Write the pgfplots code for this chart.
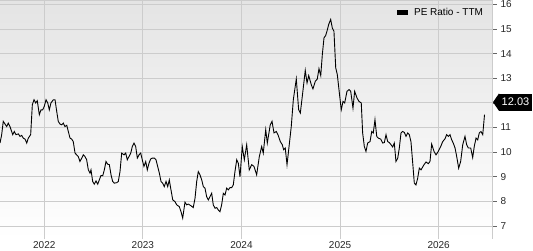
\documentclass[border=0pt]{standalone}
\usepackage{pgfplots}
\pgfplotsset{compat=1.18}
\usepackage{fontspec}
\setmainfont{Liberation Sans}
\definecolor{gridc}{HTML}{CCCCCC}
\definecolor{bgtop}{HTML}{E4E4E4}
\begin{document}
\begin{tikzpicture}[x=1pt,y=1pt]
\useasboundingbox (0,-11) rectangle (533,239);
\begin{axis}[
  at={(0,0)}, anchor=south west,
  scale only axis, width=492pt, height=239pt,
  xmin=2021.551, xmax=2026.541, ymin=6.472, ymax=16.18,
  axis line style={draw=none},
  axis background/.style={shade, top color=bgtop, middle color=white, bottom color=white},
  grid=major,
  major grid style={color=gridc, line width=1pt},
  xtick={2022,2023,2024,2025,2026},
  xticklabels={2022,2023,2024,2025,2026},
  major x tick style={draw=none},
  ytick={7,8,9,10,11,12,13,14,15,16},
  yticklabels={7,8,9,10,11,,13,14,15,16},
  yticklabel pos=right,
  tick align=outside,
  major tick length=5pt,
  major y tick style={color=black!60, line width=0.8pt},
  /pgf/number format/assume math mode=true,
  ticklabel style={font=\fontsize{10}{12}\selectfont, text=black!85},
  x tick label style={anchor=base, yshift=-4pt},
  y tick label style={anchor=west},
  legend style={at={(0.9817,0.9485)}, anchor=east, draw=none, fill=none,
    inner sep=0pt, outer sep=0pt, column sep=6pt,
    nodes={inner sep=0pt}, font=\fontsize{10}{12}\selectfont},
  legend image code/.code={\fill[black] (0pt,-1.8pt) rectangle (10pt,1.8pt);},
  after end axis/.code={
    \draw[gridc, line width=1pt] (rel axis cs:0,1) -- (rel axis cs:1,1) -- (rel axis cs:1,0);
    \node[fill=black, text=white, anchor=west, inner xsep=2.5pt, inner ysep=0pt,
      minimum height=17pt, font=\fontsize{11}{13}\selectfont] (lbl)
      at ([xshift=7pt]axis cs:2026.541,12.03) {12.03};
    \fill[black] (lbl.north west) -- ([xshift=-6pt]lbl.west) -- (lbl.south west) -- cycle;
  },
]
\addplot[black, line width=0.9pt] table {
x y
2021.551 10.37
2021.568 10.71
2021.584 11.25
2021.602 11.14
2021.619 11.04
2021.635 11.18
2021.652 11.04
2021.680 10.71
2021.696 10.84
2021.713 10.71
2021.737 10.74
2021.754 10.64
2021.771 10.68
2021.787 10.57
2021.805 10.53
2021.822 10.37
2021.838 10.57
2021.862 10.71
2021.879 11.93
2021.896 12.13
2021.913 12.00
2021.929 12.09
2021.950 11.52
2021.967 11.72
2021.984 11.72
2022.000 11.86
2022.018 12.13
2022.035 12.00
2022.051 11.72
2022.068 12.00
2022.092 12.13
2022.109 12.13
2022.126 11.66
2022.142 11.25
2022.160 11.14
2022.177 11.11
2022.193 11.18
2022.210 11.04
2022.228 11.09
2022.244 10.84
2022.261 10.57
2022.278 10.53
2022.294 10.43
2022.312 9.96
2022.329 9.89
2022.345 9.82
2022.362 9.62
2022.380 9.76
2022.396 9.89
2022.413 9.82
2022.430 9.69
2022.447 9.28
2022.464 9.15
2022.474 9.28
2022.491 8.81
2022.507 8.70
2022.525 8.83
2022.542 8.70
2022.558 8.87
2022.575 9.05
2022.593 9.04
2022.609 9.28
2022.626 9.62
2022.643 9.51
2022.660 9.49
2022.677 9.08
2022.694 8.81
2022.710 8.74
2022.735 8.76
2022.751 8.81
2022.768 9.21
2022.785 9.96
2022.809 9.89
2022.826 9.96
2022.842 9.69
2022.859 9.82
2022.877 9.96
2022.893 10.23
2022.910 10.37
2022.927 10.23
2022.944 9.76
2022.961 9.89
2022.978 9.96
2022.994 9.69
2023.011 9.42
2023.029 9.62
2023.045 9.28
2023.062 9.55
2023.079 9.72
2023.096 9.76
2023.116 9.76
2023.133 9.69
2023.150 9.42
2023.167 9.15
2023.184 8.81
2023.201 8.74
2023.217 8.60
2023.235 8.81
2023.252 8.60
2023.268 8.87
2023.285 8.47
2023.303 8.06
2023.326 7.99
2023.343 7.86
2023.369 7.79
2023.387 7.58
2023.404 7.32
2023.427 7.97
2023.444 7.86
2023.461 7.89
2023.485 7.83
2023.511 7.75
2023.529 8.13
2023.546 8.81
2023.562 9.21
2023.579 9.08
2023.597 8.87
2023.613 8.60
2023.630 8.54
2023.647 8.19
2023.664 8.06
2023.681 8.19
2023.698 8.33
2023.714 7.86
2023.732 7.72
2023.749 7.75
2023.765 7.65
2023.782 7.58
2023.799 7.86
2023.816 8.33
2023.833 8.26
2023.850 8.54
2023.867 8.47
2023.884 8.56
2023.901 8.56
2023.917 8.67
2023.934 9.21
2023.952 9.69
2023.968 9.55
2023.985 9.00
2024.008 10.23
2024.029 9.69
2024.053 10.30
2024.079 9.28
2024.104 9.49
2024.127 9.42
2024.154 9.08
2024.181 9.82
2024.205 10.23
2024.221 9.96
2024.246 10.91
2024.262 10.37
2024.292 11.11
2024.310 11.25
2024.330 10.78
2024.353 10.84
2024.370 10.71
2024.394 10.43
2024.414 10.30
2024.428 10.10
2024.444 10.17
2024.462 9.49
2024.479 10.10
2024.505 11.04
2024.526 12.13
2024.556 12.97
2024.580 11.72
2024.597 11.59
2024.617 12.27
2024.647 13.32
2024.665 12.81
2024.682 13.11
2024.708 12.74
2024.725 12.57
2024.749 12.88
2024.769 12.97
2024.786 13.39
2024.804 13.11
2024.820 13.96
2024.837 14.64
2024.854 14.74
2024.867 14.91
2024.885 15.19
2024.905 15.39
2024.921 15.05
2024.938 14.91
2024.956 13.42
2024.972 13.15
2024.989 12.54
2025.012 11.72
2025.030 12.06
2025.047 12.00
2025.070 12.47
2025.091 12.54
2025.108 12.47
2025.131 11.79
2025.148 12.47
2025.172 12.20
2025.192 12.06
2025.215 12.00
2025.229 10.78
2025.246 10.23
2025.263 10.03
2025.280 10.37
2025.304 10.43
2025.321 10.84
2025.337 10.78
2025.354 11.32
2025.372 10.64
2025.388 10.57
2025.412 10.53
2025.432 10.37
2025.449 10.39
2025.466 10.71
2025.483 10.43
2025.499 10.39
2025.517 10.30
2025.534 10.21
2025.550 10.37
2025.567 9.62
2025.585 9.76
2025.601 10.17
2025.618 10.78
2025.635 10.84
2025.652 10.80
2025.669 10.64
2025.686 10.78
2025.702 10.71
2025.719 10.43
2025.737 9.55
2025.753 8.74
2025.770 8.67
2025.787 8.94
2025.804 9.35
2025.821 9.28
2025.851 9.49
2025.872 9.60
2025.895 9.53
2025.912 9.62
2025.929 10.33
2025.953 10.03
2025.973 9.89
2025.996 10.03
2026.021 10.23
2026.041 10.43
2026.064 10.54
2026.081 10.71
2026.098 10.64
2026.115 10.71
2026.132 10.50
2026.148 10.37
2026.166 10.17
2026.183 9.82
2026.203 9.35
2026.223 9.62
2026.244 10.30
2026.267 10.64
2026.284 10.30
2026.301 10.17
2026.325 10.17
2026.345 9.78
2026.361 10.23
2026.379 10.57
2026.396 10.50
2026.412 10.78
2026.429 10.84
2026.447 10.71
2026.465 11.52
};
\addlegendentry{PE Ratio - TTM}
\end{axis}
\end{tikzpicture}
\end{document}
